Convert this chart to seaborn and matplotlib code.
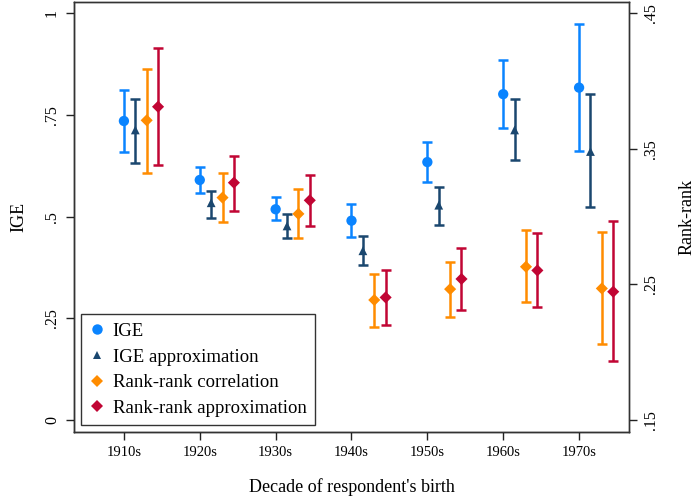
import numpy as np
import pandas as pd
import seaborn as sns
import matplotlib.pyplot as plt
from matplotlib.lines import Line2D

# =========================
#       DATA
# =========================
decades = ["1910s", "1920s", "1930s", "1940s", "1950s", "1960s", "1970s"]

# IGE (left axis)
ige = [0.735, 0.590, 0.518, 0.490, 0.634, 0.801, 0.817]
ige_lo = [0.660, 0.558, 0.491, 0.449, 0.584, 0.719, 0.662]
ige_hi = [0.810, 0.623, 0.548, 0.531, 0.684, 0.885, 0.973]

# IGE approximation (left axis)
ige_apx = [0.713, 0.534, 0.477, 0.416, 0.528, 0.713, 0.660]
ige_apx_lo = [0.631, 0.497, 0.448, 0.380, 0.479, 0.639, 0.523]
ige_apx_hi = [0.790, 0.564, 0.506, 0.452, 0.573, 0.789, 0.802]

# Rank-rank correlation (right axis)
rr = [0.371, 0.314, 0.302, 0.2385, 0.2465, 0.263, 0.247]
rr_lo = [0.332, 0.296, 0.284, 0.2186, 0.2262, 0.237, 0.2058]
rr_hi = [0.409, 0.332, 0.320, 0.258, 0.2665, 0.290, 0.2886]

# Rank-rank approximation (right axis)
rr_apx = [0.381, 0.325, 0.312, 0.2404, 0.254, 0.2603, 0.2446]
rr_apx_lo = [0.338, 0.304, 0.293, 0.2198, 0.2312, 0.2334, 0.1933]
rr_apx_hi = [0.424, 0.345, 0.331, 0.2608, 0.2768, 0.2876, 0.297]

series_names = ["IGE", "IGE approximation", "Rank-rank correlation", "Rank-rank approximation"]
series_colors = ["#0A84FF", "#1A476F", "#FF8C00", "#C10534"]
series_markers = ["o", "^", "D", "D"]
series_sizes = [55, 40, 38, 38]
offsets = [0.0, 0.15, 0.30, 0.45]


def build_frame():
    rows = []
    groups = [
        (ige, ige_lo, ige_hi, "left"),
        (ige_apx, ige_apx_lo, ige_apx_hi, "left"),
        (rr, rr_lo, rr_hi, "right"),
        (rr_apx, rr_apx_lo, rr_apx_hi, "right"),
    ]
    for k, (vals, lo, hi, side) in enumerate(groups):
        for i, d in enumerate(decades):
            rows.append({
                "series": series_names[k],
                "decade": d,
                "x": i + offsets[k],
                "value": vals[i],
                "lo": lo[i],
                "hi": hi[i],
                "axis": side,
            })
    return pd.DataFrame(rows)


# =========================
#       PLOT
# =========================
sns.set_theme(style="ticks")
plt.rcParams["font.family"] = ["Liberation Serif", "DejaVu Serif"]
plt.rcParams["text.color"] = "black"
plt.rcParams["xtick.color"] = "black"
plt.rcParams["ytick.color"] = "black"
plt.rcParams["axes.labelcolor"] = "black"

df = build_frame()

fig = plt.figure(figsize=(6.96, 4.98), dpi=100)
ax = fig.add_axes([74 / 696, 66 / 498, 555 / 696, 430 / 498])
ax2 = ax.twinx()

ylo, yhi = -0.0295, 1.0275
ax.set_ylim(ylo, yhi)
ax2.set_ylim(0.15 + 0.3 * ylo, 0.15 + 0.3 * yhi)
ax.set_xlim(-0.658, 6.658)

for k, name in enumerate(series_names):
    sub = df[df["series"] == name]
    target = ax if sub["axis"].iloc[0] == "left" else ax2
    target.errorbar(
        sub["x"], sub["value"],
        yerr=[sub["value"] - sub["lo"], sub["hi"] - sub["value"]],
        fmt="none", ecolor=series_colors[k], elinewidth=1.8,
        capsize=3.8, capthick=1.8, zorder=2,
    )
    sns.scatterplot(
        data=sub, x="x", y="value", ax=target,
        color=series_colors[k], marker=series_markers[k],
        s=series_sizes[k], edgecolor="none", zorder=3, legend=False,
    )

ax.set_xticks(range(len(decades)))
ax.set_xticklabels(decades, fontsize=10.5)
ax.set_yticks([0, 0.25, 0.5, 0.75, 1])
ax.set_yticklabels(["0", ".25", ".5", ".75", "1"], rotation=90, va="center", fontsize=11.5)
ax2.set_yticks([0.15, 0.25, 0.35, 0.45])
ax2.set_yticklabels([".15", ".25", ".35", ".45"], rotation=90, va="center", fontsize=11.5)

ax.set_xlabel("Decade of respondent's birth", fontsize=13, labelpad=14)
ax.set_ylabel("IGE", fontsize=13, labelpad=12)
ax2.set_ylabel("Rank-rank", fontsize=13, labelpad=14)

for a in (ax, ax2):
    a.tick_params(length=6, width=1.0, color="#222222", pad=4)
    for sp in a.spines.values():
        sp.set_color("#333333")
        sp.set_linewidth(1.0)
ax.spines["left"].set_color("black")
ax.spines["bottom"].set_color("black")

handles = [
    Line2D([], [], linestyle="none", marker=series_markers[k], color=series_colors[k],
           markersize=[7.5, 6.0, 6.0, 6.0][k], markeredgewidth=0)
    for k in range(len(series_names))
]
leg = ax2.legend(
    handles, series_names, loc="lower left", bbox_to_anchor=(0.012, 0.016),
    fontsize=13.5, frameon=True, fancybox=False, edgecolor="black",
    handlelength=0.8, handletextpad=0.45, labelspacing=0.45, borderpad=0.45,
    borderaxespad=0.0,
)
leg.get_frame().set_linewidth(1.0)

fig.savefig("out.png", dpi=100)
